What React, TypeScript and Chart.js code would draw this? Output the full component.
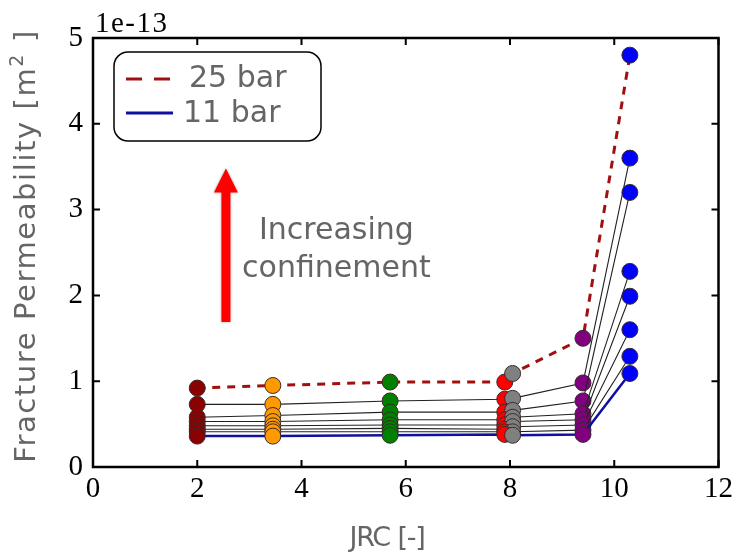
import React, { useEffect, useRef } from "react";
import { Chart, registerables } from "chart.js";

Chart.register(...registerables);

const jrc = [2, 3.45, 5.7, 7.9, 8.05, 9.4, 10.3];
const groupColors = ["#8b0000", "#ff9900", "#008000", "#ff0000", "#808080", "#800080", "#0000ff"];
const bar25 = [0.92, 0.95, 0.99, 0.99, 1.09, 1.5, 4.8];
const mid1 = [0.73, 0.73, 0.77, 0.79, 0.8, 0.98, 3.6];
const mid2 = [0.58, 0.6, 0.64, 0.64, 0.66, 0.77, 3.2];
const mid3 = [0.53, 0.53, 0.55, 0.55, 0.58, 0.62, 2.28];
const mid4 = [0.48, 0.48, 0.49, 0.49, 0.53, 0.55, 1.99];
const mid5 = [0.44, 0.44, 0.45, 0.44, 0.47, 0.49, 1.6];
const mid6 = [0.41, 0.41, 0.41, 0.41, 0.41, 0.43, 1.29];
const bar11 = [0.36, 0.36, 0.37, 0.38, 0.37, 0.38, 1.09];
const midSeries = [mid1, mid2, mid3, mid4, mid5, mid6];
const xTicks = [0, 2, 4, 6, 8, 10, 12];
const yTicks = [0, 1, 2, 3, 4, 5];
const legendLabels = ["25 bar", "11 bar"];
const xTitle = "JRC [-]";
const yTitleMain = "Fracture Permeability [m";
const yTitleSup = "2";
const yTitleEnd = " ]";
const exponentLabel = "1e-13";
const noteLines = ["Increasing", "confinement"];

const GRAY = "#656565";
const SANS = "'DejaVu Sans', sans-serif";
const SERIF = "'Liberation Serif', serif";

function toPoints(vals: number[]) {
  return jrc.map((x, i) => ({ x, y: vals[i] }));
}

const overlay = {
  id: "overlay",
  afterDraw(chart: any) {
    const { ctx, chartArea, scales } = chart;
    const { left, right, top, bottom } = chartArea;
    const xs = scales.x;
    const ys = scales.y;
    ctx.save();
    // frame
    ctx.strokeStyle = "#000";
    ctx.lineWidth = 2.5;
    ctx.strokeRect(left, top, right - left, bottom - top);
    // inward ticks
    ctx.lineWidth = 2;
    xTicks.forEach((v) => {
      const px = xs.getPixelForValue(v);
      ctx.beginPath();
      ctx.moveTo(px, bottom);
      ctx.lineTo(px, bottom - 7);
      ctx.moveTo(px, top);
      ctx.lineTo(px, top + 7);
      ctx.stroke();
    });
    yTicks.forEach((v) => {
      const py = ys.getPixelForValue(v);
      ctx.beginPath();
      ctx.moveTo(left, py);
      ctx.lineTo(left + 7, py);
      ctx.moveTo(right, py);
      ctx.lineTo(right - 7, py);
      ctx.stroke();
    });
    // exponent label
    ctx.fillStyle = "#000";
    ctx.font = `29px ${SERIF}`;
    (ctx as any).letterSpacing = "1.5px";
    ctx.textAlign = "left";
    ctx.textBaseline = "alphabetic";
    ctx.fillText(exponentLabel, left + 2, top - 6);
    (ctx as any).letterSpacing = "0px";

    // x title
    ctx.fillStyle = GRAY;
    ctx.font = `27px ${SANS}`;
    (ctx as any).letterSpacing = "-1.2px";
    ctx.textAlign = "center";
    ctx.textBaseline = "middle";
    ctx.fillText(xTitle, 387, 539);
    (ctx as any).letterSpacing = "0px";

    // y title rotated
    ctx.save();
    ctx.translate(27, 246);
    ctx.rotate(-Math.PI / 2);
    (ctx as any).letterSpacing = "1.6px";
    ctx.font = `29px ${SANS}`;
    const w1 = ctx.measureText(yTitleMain).width;
    ctx.font = `19px ${SANS}`;
    const w2 = ctx.measureText(yTitleSup).width;
    ctx.font = `29px ${SANS}`;
    const w3 = ctx.measureText(yTitleEnd).width;
    const total = w1 + w2 + w3;
    let cx = -total / 2;
    ctx.textAlign = "left";
    ctx.textBaseline = "middle";
    ctx.fillText(yTitleMain, cx, 0);
    cx += w1;
    ctx.font = `19px ${SANS}`;
    ctx.fillText(yTitleSup, cx, -9);
    cx += w2;
    ctx.font = `29px ${SANS}`;
    ctx.fillText(yTitleEnd, cx, 0);
    (ctx as any).letterSpacing = "0px";
    ctx.restore();

    // legend box
    const bx = 114, by = 52, bw = 207, bh = 89, r = 14;
    ctx.beginPath();
    ctx.moveTo(bx + r, by);
    ctx.arcTo(bx + bw, by, bx + bw, by + bh, r);
    ctx.arcTo(bx + bw, by + bh, bx, by + bh, r);
    ctx.arcTo(bx, by + bh, bx, by, r);
    ctx.arcTo(bx, by, bx + bw, by, r);
    ctx.closePath();
    ctx.fillStyle = "#fff";
    ctx.fill();
    ctx.strokeStyle = "#000";
    ctx.lineWidth = 1.5;
    ctx.stroke();
    // legend samples
    ctx.lineWidth = 3;
    ctx.strokeStyle = "#a01010";
    ctx.setLineDash([16, 12]);
    ctx.beginPath();
    ctx.moveTo(126, 79);
    ctx.lineTo(172, 79);
    ctx.stroke();
    ctx.setLineDash([]);
    ctx.strokeStyle = "#1010a0";
    ctx.beginPath();
    ctx.moveTo(126, 113);
    ctx.lineTo(173, 113);
    ctx.stroke();
    ctx.fillStyle = GRAY;
    ctx.font = `30px ${SANS}`;
    ctx.textAlign = "left";
    ctx.textBaseline = "middle";
    ctx.fillText(legendLabels[0], 189, 79);
    ctx.fillText(legendLabels[1], 183, 114);

    // arrow
    const ax = xs.getPixelForValue(2.55);
    const ayBase = ys.getPixelForValue(1.69);
    const ayTip = ys.getPixelForValue(3.48);
    const headH = 24;
    ctx.save();
    ctx.shadowColor = "rgba(0,0,0,0.35)";
    ctx.shadowBlur = 3;
    ctx.fillStyle = "#ff0000";
    ctx.beginPath();
    ctx.moveTo(ax - 4.5, ayBase);
    ctx.lineTo(ax + 4.5, ayBase);
    ctx.lineTo(ax + 4.5, ayTip + headH);
    ctx.lineTo(ax + 12, ayTip + headH);
    ctx.lineTo(ax, ayTip);
    ctx.lineTo(ax - 12, ayTip + headH);
    ctx.lineTo(ax - 4.5, ayTip + headH);
    ctx.closePath();
    ctx.fill();
    ctx.restore();

    // note text
    ctx.fillStyle = GRAY;
    ctx.font = `30px ${SANS}`;
    ctx.textAlign = "center";
    ctx.textBaseline = "alphabetic";
    const tx = xs.getPixelForValue(4.67);
    ctx.fillText(noteLines[0], tx, ys.getPixelForValue(2.66));
    ctx.fillText(noteLines[1], tx, ys.getPixelForValue(2.215));
    ctx.restore();
  },
};

export default function App() {
  const ref = useRef<HTMLCanvasElement | null>(null);
  useEffect(() => {
    if (!ref.current) return;
    const pointStyleFor = () => ({
      pointBackgroundColor: groupColors,
      pointBorderColor: "#3a2a2a",
      pointBorderWidth: 1,
      pointRadius: 8,
      pointHoverRadius: 8,
    });
    const datasets: any[] = [];
    datasets.push({
      label: "11 bar",
      data: toPoints(bar11),
      borderColor: "#1010a0",
      borderWidth: 2.5,
      ...pointStyleFor(),
    });
    [...midSeries].reverse().forEach((s, i) => {
      datasets.push({
        label: "mid" + i,
        data: toPoints(s),
        borderColor: "#222",
        borderWidth: 1.1,
        ...pointStyleFor(),
      });
    });
    datasets.push({
      label: "25 bar",
      data: toPoints(bar25),
      borderColor: "#a01010",
      borderWidth: 3,
      borderDash: [8, 7],
      ...pointStyleFor(),
    });
    const chart = new Chart(ref.current, {
      type: "line",
      data: { datasets },
      options: {
        animation: false,
        responsive: false,
        maintainAspectRatio: false,
        layout: { padding: { left: 0, top: 38, right: 18, bottom: 0 } },
        plugins: { legend: { display: false }, tooltip: { enabled: false } },
        elements: { line: { tension: 0 } },
        scales: {
          x: {
            type: "linear",
            min: 0,
            max: 12,
            afterBuildTicks: (s: any) => {
              s.ticks = xTicks.map((v) => ({ value: v }));
            },
            afterFit: (s: any) => {
              s.height = 91;
            },
            grid: { display: false, drawTicks: false },
            border: { display: false },
            ticks: {
              color: "#000",
              padding: 5,
              font: { family: "'Liberation Serif', serif", size: 29 },
              callback: (v: any) => String(v),
            },
          },
          y: {
            type: "linear",
            min: 0,
            max: 5,
            afterBuildTicks: (s: any) => {
              s.ticks = yTicks.map((v) => ({ value: v }));
            },
            afterFit: (s: any) => {
              s.width = 93;
            },
            grid: { display: false, drawTicks: false },
            border: { display: false },
            ticks: {
              color: "#000",
              padding: 10,
              font: { family: "'Liberation Serif', serif", size: 29 },
              callback: (v: any) => String(v),
            },
          },
        },
      },
      plugins: [overlay],
    });
    return () => chart.destroy();
  }, []);
  return (
    <div style={{ position: "absolute", left: 0, top: 0, width: 738, height: 558, background: "#fff" }}>
      <canvas ref={ref} width={738} height={558} style={{ width: 738, height: 558, display: "block" }} />
    </div>
  );
}
